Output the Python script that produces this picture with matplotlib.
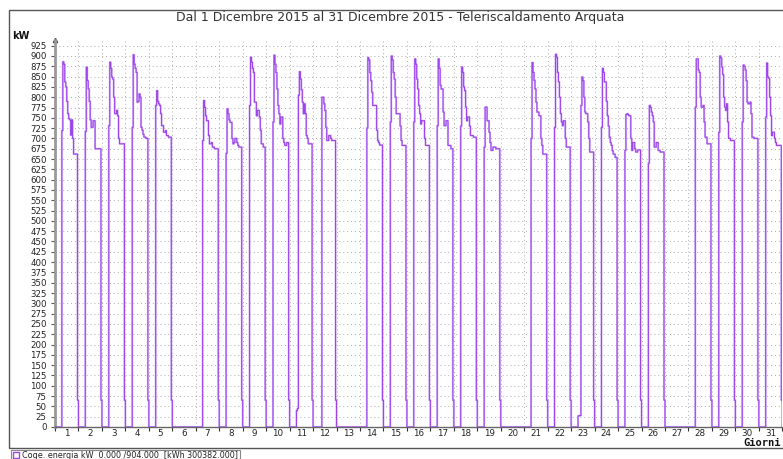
import numpy as np
import matplotlib.pyplot as plt
from matplotlib.patches import Rectangle

# hourly power (kW), hours 0..23 for each day of December 2015
d01 = [0,0,0,0,0,0,0, 719,886,880,837,825,790,760,748,745,708,745,700,662,662,662,662, 65]
d02 = [0,0,0,0,0,0,0, 717,873,840,820,790,745,727,727,743,743,675,675,675,675,675,675, 65]
d03 = [0,0,0,0,0,0,0, 731,885,870,849,844,800,760,760,768,755,700,687,687,687,687,687, 65]
d04 = [0,0,0,0,0,0,0, 727,903,880,870,860,788,790,808,800,727,720,710,703,703,700,700, 65]
d05 = [0,0,0,0,0,0,0, 780,816,790,784,780,760,731,731,715,715,719,707,707,703,703,703, 65]
d06 = [0,0,0,0,0,0,0, 0,0,0,0,0,0,0,0,0,0,0,0,0,0,0,0, 0]
d07 = [0,0,0,0,0,0,0, 695,792,775,755,743,743,707,687,687,690,679,679,675,675,675,675, 65]
d08 = [0,0,0,0,0,0,0, 664,772,760,745,739,739,700,687,690,700,700,690,683,679,679,679, 65]
d09 = [0,0,0,0,0,0,0, 780,897,885,870,860,788,788,755,768,768,752,720,687,687,679,679, 65]
d10 = [0,0,0,0,0,0,0, 740,902,880,860,820,780,760,735,752,752,700,690,683,683,690,690, 65]
d11 = [0,0,0,0,0,0,0, 40,45,805,862,844,818,788,760,784,760,707,700,687,687,687,687, 65]
d12 = [0,0,0,0,0,0,0, 0,0,800,800,784,768,727,695,695,707,707,700,695,695,695,695, 65]
d13 = [0,0,0,0,0,0,0, 0,0,0,0,0,0,0,0,0,0,0,0,0,0,0,0, 0]
d14 = [0,0,0,0,0,0,0, 725,896,890,860,840,812,780,780,780,780,720,695,690,684,684,684, 65]
d15 = [0,0,0,0,0,0,0, 740,900,890,860,844,800,760,760,760,760,730,695,683,683,683,683, 65]
d16 = [0,0,0,0,0,0,0, 740,893,880,844,820,780,760,735,743,743,743,700,683,683,683,683, 65]
d17 = [0,0,0,0,0,0,0, 731,893,870,829,820,820,764,731,731,743,743,683,683,683,675,675, 65]
d18 = [0,0,0,0,0,0,0, 730,873,860,825,816,776,743,752,752,730,707,707,707,703,703,703, 65]
d19 = [0,0,0,0,0,0,0, 679,776,776,743,743,715,690,671,671,679,679,679,675,675,675,675, 65]
d20 = [0,0,0,0,0,0,0, 0,0,0,0,0,0,0,0,0,0,0,0,0,0,0,0, 0]
d21 = [0,0,0,0,0,0,0, 700,884,860,841,820,788,764,764,755,755,700,683,662,662,662,662, 65]
d22 = [0,0,0,0,0,0,0, 727,904,897,860,837,800,760,740,731,743,743,700,679,679,679,679, 65]
d23 = [0,0,0,0,0,0,0, 27,27,28,780,849,840,800,764,760,760,740,700,667,667,667,667, 65]
d24 = [0,0,0,0,0,0,0, 727,870,860,837,837,790,755,730,703,690,683,670,662,662,654,654, 65]
d25 = [0,0,0,0,0,0,0, 671,758,760,758,755,755,700,671,690,690,675,667,667,672,672,672, 65]
d26 = [0,0,0,0,0,0,0, 640,780,775,764,755,740,679,679,690,690,671,671,667,667,667,667, 65]
d27 = [0,0,0,0,0,0,0, 0,0,0,0,0,0,0,0,0,0,0,0,0,0,0,0, 0]
d28 = [0,0,0,0,0,0,0, 776,893,893,866,860,800,776,776,780,740,703,703,687,687,687,687, 65]
d29 = [0,0,0,0,0,0,0, 715,900,895,873,855,800,776,768,784,740,700,700,695,695,695,695, 65]
d30 = [0,0,0,0,0,0,0, 740,878,875,866,840,788,784,784,788,760,703,703,700,700,700,700, 65]
d31 = [0,0,0,0,0,0,0, 752,883,849,846,800,755,707,715,715,700,690,683,683,683,683,683, 65]

days = [d01, d02, d03, d04, d05, d06, d07, d08, d09, d10, d11, d12, d13, d14, d15, d16,
        d17, d18, d19, d20, d21, d22, d23, d24, d25, d26, d27, d28, d29, d30, d31]
day_labels = [str(i) for i in range(1, 32)]

kw = np.concatenate(days + [[0]])
t = np.arange(len(kw)) / 24.0

W, H = 783, 459
fig = plt.figure(figsize=(W / 100, H / 100), dpi=100)
fig.patch.set_facecolor('white')

# outer panel frame
fig.add_artist(Rectangle((9 / W, 1 - 448 / H), 1 - 9 / W + 0.01, 438 / H,
                         transform=fig.transFigure, fill=False, edgecolor='#555555', lw=1))

ax = fig.add_axes([55 / W, 1 - 427 / H, (782.3 - 55) / W, (427 - 39.5) / H])
ax.set_xlim(0, 31)
ax.set_ylim(0, 940)

# line with a lavender halo, like the original renderer
ax.step(t, kw, where='post', color='#dcbcfb', lw=1.5, zorder=2)
ax.step(t, kw, where='post', color='#9b45ea', lw=0.8, zorder=3)

ax.set_yticks(range(0, 926, 25))
ax.set_yticklabels([str(v) for v in range(0, 926, 25)], fontsize=6.2, color='#222222')
ax.set_xticks(np.arange(0, 32))
ax.set_xticklabels([''] * 32)
ax.set_xticks(np.arange(0.5, 31), minor=True)
ax.set_xticklabels(day_labels, minor=True, fontsize=6.3, color='#222222')
ax.tick_params(axis='x', which='major', length=3, color='#333333', direction='out')
ax.tick_params(axis='x', which='minor', length=0, pad=1.5)
ax.tick_params(axis='y', length=3, color='#555555', pad=3)

ax.grid(True, which='major', color='#adadad', linestyle=(0, (1, 3)), linewidth=0.7)
ax.set_axisbelow(True)
for s in ['top', 'right']:
    ax.spines[s].set_visible(False)
ax.spines['left'].set_color('#999999')
ax.spines['left'].set_linewidth(2)
ax.spines['bottom'].set_color('#666666')
ax.spines['bottom'].set_linewidth(1)
ax.plot([0], [1], marker='^', markersize=3, color='#444444', transform=ax.transAxes, clip_on=False)

fig.text(400 / W, 1 - 17 / H, 'Dal 1 Dicembre 2015 al 31 Dicembre 2015 - Teleriscaldamento Arquata',
         ha='center', va='center', fontsize=9, color='#333333')
fig.text(12 / W, 1 - 36 / H, 'kW', ha='left', va='center', fontsize=7, fontweight='bold', color='#111111')
fig.text(781 / W, 1 - 443 / H, 'Giorni', ha='right', va='center', fontsize=7.5,
         fontweight='bold', family='DejaVu Sans Mono', color='#111111')

# legend row
fig.add_artist(Rectangle((11 / W, 1 - 459 / H), 229 / W, 9 / H, transform=fig.transFigure,
                         fill=False, edgecolor='#888888', lw=0.8))
fig.add_artist(Rectangle((13 / W, 1 - 458 / H), 6 / W, 6 / H, transform=fig.transFigure,
                         facecolor='white', edgecolor='#9b45ea', lw=1))
fig.text(22 / W, 1 - 455 / H, 'Coge. energia kW  0.000 /904.000  [kWh 300382.000]',
         ha='left', va='center', fontsize=5.8, color='#222222')

fig.savefig('out.png', dpi=100)
